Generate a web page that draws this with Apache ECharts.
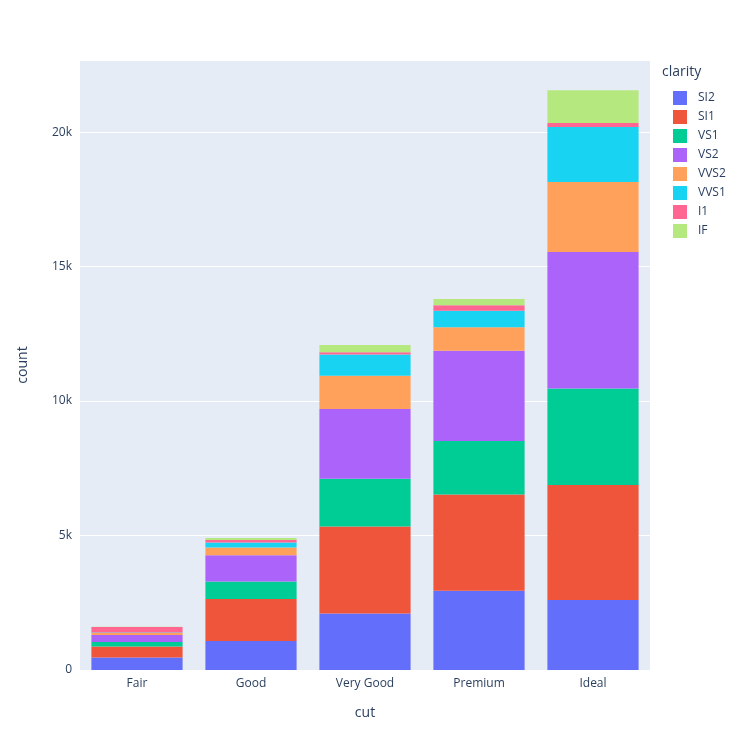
<!DOCTYPE html>
<html><head><meta charset="utf-8">
<script src="https://cdn.jsdelivr.net/npm/echarts@6/dist/echarts.min.js"></script>
<style>html,body{margin:0;padding:0;background:#fff}#c{width:750px;height:750px}</style>
</head><body><div id="c"></div>
<script>
const cuts = ['Fair','Good','Very Good','Premium','Ideal'];
const clarities = ['SI2','SI1','VS1','VS2','VVS2','VVS1','I1','IF'];
const SI2 = [466,1081,2100,2949,2598];
const SI1 = [408,1560,3240,3575,4282];
const VS1 = [170,648,1775,1989,3589];
const VS2 = [261,978,2591,3357,5071];
const VVS2 = [69,286,1235,870,2606];
const VVS1 = [17,186,789,616,2047];
const I1 = [210,96,84,205,146];
const IF = [9,71,268,230,1212];
const values = {SI2,SI1,VS1,VS2,VVS2,VVS1,I1,IF};
const colors = ['#636efa','#EF553B','#00cc96','#ab63fa','#FFA15A','#19d3f3','#FF6692','#B6E880'];
const font = {fontFamily:'Open Sans, sans-serif', color:'#2a3f5f', fontSize:12};
const chart = echarts.init(document.getElementById('c'));
chart.setOption({
  animation:false,
  textStyle:font,
  grid:{left:80,right:100,top:60,bottom:80},
  graphic:[
    {type:'rect',shape:{x:80,y:60,width:570,height:610},style:{fill:'#E5ECF6'},z:-10},
    {type:'text',left:662,top:65,style:{text:'clarity',font:'14px Open Sans',fill:'#2a3f5f'}}
  ],
  legend:{orient:'vertical',left:668,top:86,itemWidth:14,itemHeight:14,itemGap:5,icon:'rect',
    textStyle:{fontFamily:'Open Sans',fontSize:12,color:'#2a3f5f',padding:[0,0,0,6]},data:clarities},
  xAxis:{type:'category',data:cuts,name:'cut',nameLocation:'middle',nameGap:36,
    nameTextStyle:{fontSize:14,color:'#2a3f5f'},
    axisLine:{show:false},axisTick:{show:false},axisLabel:{color:'#2a3f5f',fontSize:12,margin:8}},
  yAxis:{type:'value',min:0,max:22680,interval:5000,name:'count',nameLocation:'middle',nameGap:50,
    nameTextStyle:{fontSize:14,color:'#2a3f5f'},
    axisLabel:{color:'#2a3f5f',fontSize:12,formatter:v=>v===0?'0':(v/1000)+'k',showMaxLabel:false},
    splitLine:{lineStyle:{color:'#fff',width:1}},axisLine:{show:false},axisTick:{show:false}},
  series:clarities.map((c,i)=>({name:c,type:'bar',stack:'a',data:values[c],
    barCategoryGap:'20%',itemStyle:{color:colors[i]}}))
});
</script></body></html>
